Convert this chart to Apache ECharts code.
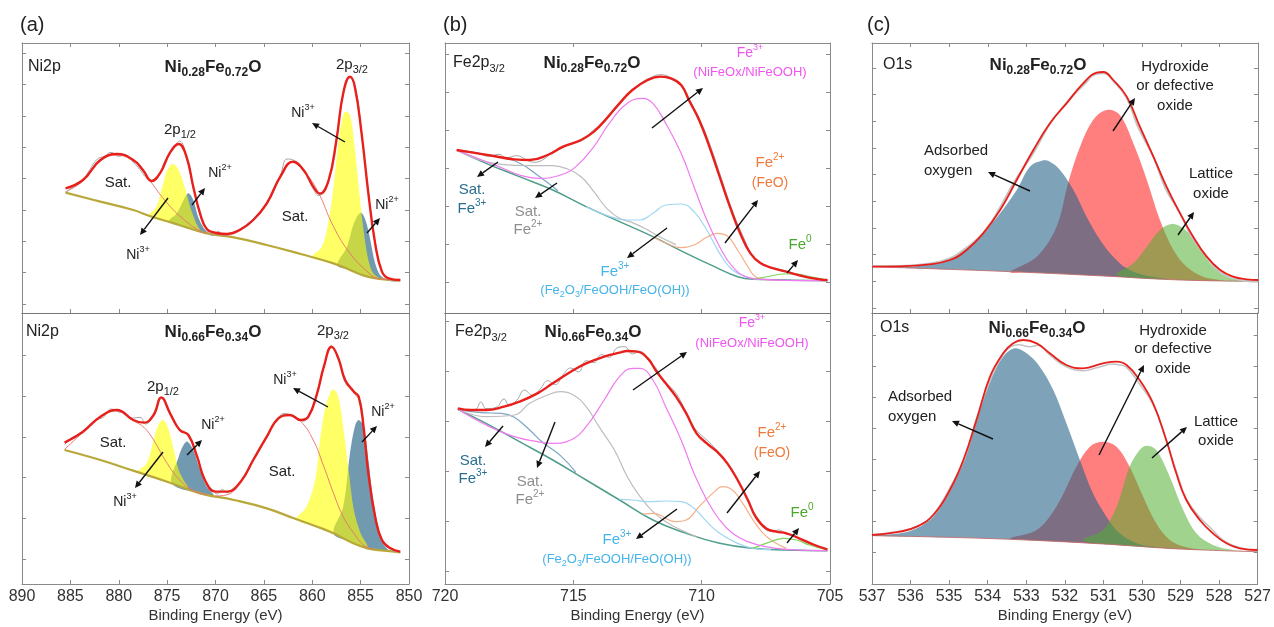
<!DOCTYPE html>
<html><head><meta charset="utf-8">
<script src="https://cdn.jsdelivr.net/npm/echarts@6/dist/echarts.min.js"></script>
<style>html,body{margin:0;padding:0;background:#fff}#c{width:1274px;height:627px}</style>
</head><body><div id="c"></div>
<script>
// ---------- axis ranges & tick labels ----------
const xRangeA = [850, 890, 5];
const xRangeB = [705, 720, 5];
const xRangeC = [527, 537, 1];
const yTicksA1 = [27,121,215,309,403,497,591,685,779];
const yTicksA2 = [75,197,319,441,563,685];
const yTicksB1 = [93,207,321,435,549,663,777];
const yTicksB2 = [39,189,339,489,639,789];
const yTicksC1 = [15,95,175,255,335,415,495,575,655,735];
const yTicksC2 = [96,189,282,375,468,561,654,747];
const xName = 'Binding Energy (eV)';

// ---------- (a) Ni2p, Ni0.28Fe0.72O ----------
const a1Bg = [[885.5,361],[881.9,334],[878.5,309],[876.8,291],[874.3,269],[870.9,239],[868.1,227],[864.7,204],[861.2,177],[857.8,149],[856.1,129],[854.3,109],[852.6,101],[850.9,97]];
const a1Env = [[885.5,374],[883.7,399],[881.9,459],[880.2,477],[878.5,459],[877.5,429],[876.6,396],[875.7,421],[874.7,481],[873.8,507],[873.0,469],[872.3,379],[871.6,299],[870.9,252],[869.9,240],[868.8,237],[867.5,249],[866.1,279],[864.7,329],[863.3,409],[862.0,454],[860.9,429],[859.9,379],[859.2,358],[858.3,399],[857.5,519],[856.8,659],[856.1,709],[855.6,679],[854.9,539],[854.2,359],[853.5,209],[852.8,124],[852.1,104],[850.9,99]];
const a1Raw = [[885.5,362],[884.6,380],[883.8,395],[883.0,430],[882.2,462],[881.5,470],[880.8,482],[880.0,470],[879.3,474],[878.5,452],[877.8,430],[877.1,404],[876.5,398],[875.9,410],[875.3,452],[874.7,480],[874.0,510],[873.7,516],[873.0,465],[872.3,375],[871.6,300],[870.9,250],[870.3,232],[869.7,245],[869.2,232],[868.5,240],[867.5,252],[866.1,282],[864.7,326],[863.3,412],[862.6,462],[861.9,458],[861.2,442],[860.5,410],[859.9,372],[859.3,352],[858.8,368],[858.3,396],[857.5,522],[856.8,655],[856.1,705],[855.5,670],[854.9,540],[854.2,362],[853.5,212],[852.8,126],[852.1,100],[851.5,96],[850.9,99]];
const a1Sat1 = [[885.5,363],[883.7,396],[881.9,456],[880.2,474],[878.5,456],[877.5,425],[876.6,390],[875.0,330],[873.3,281],[871.6,246],[870.9,239]];
const a1Sat2 = [[870.2,237],[868.8,234],[867.5,247],[866.1,277],[864.7,327],[863.3,406],[862.0,451],[860.9,426],[859.5,369],[857.8,259],[856.1,179],[854.3,124],[853.3,104],[852.1,100]];
const a1Ni3a = [[876.9,291],[876.1,319],[875.4,389],[874.9,434],[874.4,447],[873.8,429],[873.1,369],[872.4,299],[871.6,249],[871.1,241]];
const a1Ni2a = [[874.9,274],[874.0,299],[873.3,339],[872.8,359],[872.3,339],[871.8,289],[871.2,254],[870.7,238]];
const a1Ni3b = [[860.0,168],[859.0,199],[858.3,279],[857.8,379],[857.3,509],[856.8,594],[856.5,604],[856.1,594],[855.7,519],[855.2,379],[854.7,249],[854.2,159],[853.7,119],[853.1,104]];
const a1Ni2b = [[857.4,144],[856.4,199],[855.7,269],[855.0,301],[854.5,279],[854.0,219],[853.5,149],[853.0,114],[852.4,101]];

// ---------- (a) Ni2p, Ni0.66Fe0.34O ----------
const a2Bg = [[885.6,402],[881.9,372],[878.5,340],[875.0,307],[871.6,272],[868.1,252],[864.7,227],[861.9,197],[859.5,172],[857.8,152],[856.1,127],[854.3,107],[852.6,100],[850.9,95]];
const a2Env = [[885.6,424],[883.7,457],[881.9,502],[880.2,522],[878.5,492],[877.4,484],[876.4,507],[875.6,560],[874.7,512],[873.7,462],[872.8,447],[871.9,382],[871.1,312],[870.0,277],[868.8,277],[867.4,307],[866.1,372],[864.7,442],[863.5,497],[862.3,507],[861.2,492],[860.4,502],[859.5,572],[858.8,652],[858.0,712],[857.3,677],[856.6,612],[855.7,577],[855.2,562],[854.7,472],[854.2,332],[853.5,202],[852.8,132],[851.9,107],[850.9,97]];
const a2Raw = [[885.6,418],[884.8,440],[884.0,448],[883.2,470],[882.4,492],[881.6,500],[880.8,525],[880.0,516],[879.3,512],[878.6,498],[877.8,500],[877.2,480],[876.6,496],[876.1,530],[875.6,556],[875.0,535],[874.4,492],[873.8,466],[873.3,458],[872.7,440],[871.9,384],[871.1,315],[870.4,285],[869.8,270],[869.3,284],[868.8,274],[868.2,287],[867.4,305],[866.1,375],[864.7,440],[863.5,500],[862.8,512],[862.0,502],[861.4,495],[860.9,488],[860.4,506],[859.5,570],[858.8,650],[858.0,708],[857.3,680],[856.8,620],[856.4,596],[855.9,585],[855.5,566],[855.0,545],[854.7,470],[854.2,334],[853.5,200],[852.8,128],[851.9,104],[850.9,95]];
const a2Sat1 = [[885.6,404],[883.7,455],[881.9,500],[880.2,520],[878.5,490],[877.4,470],[876.4,432],[875.0,362],[873.7,312],[872.3,280],[870.9,267]];
const a2Sat2 = [[870.0,264],[868.8,268],[867.4,305],[866.1,370],[864.7,440],[863.5,494],[862.3,505],[861.2,488],[859.9,432],[858.8,352],[857.8,272],[856.8,202],[855.7,152],[854.7,117],[853.7,104]];
const a2Ni3a = [[878.0,335],[877.1,362],[876.4,432],[875.9,477],[875.4,492],[874.9,467],[874.3,402],[873.8,342],[873.3,312],[872.8,286]];
const a2Ni2a = [[874.5,302],[873.8,382],[873.3,417],[872.9,427],[872.3,402],[871.6,342],[870.9,292],[870.2,266]];
const a2Ni3b = [[861.6,194],[860.6,232],[859.7,312],[859.2,432],[858.7,522],[858.1,577],[857.8,584],[857.3,562],[856.8,472],[856.2,332],[855.7,222],[855.0,152],[854.3,110]];
const a2Ni2b = [[857.8,152],[856.8,232],[856.1,392],[855.6,472],[855.2,492],[854.7,472],[854.2,372],[853.7,252],[853.1,162],[852.6,117],[852.1,100]];

// ---------- (b) Fe2p3/2, Ni0.28Fe0.72O ----------
const b1Bg = [[719.5,487],[718.4,449],[717.1,409],[715.8,369],[714.5,319],[713.2,274],[711.9,229],[710.6,179],[709.5,139],[708.6,109],[708.0,101],[706.7,99],[705.1,97]];
const b1Env = [[719.55,489],[718.9,481],[718.1,471],[717.3,461],[716.7,459],[716.0,474],[715.4,499],[714.7,519],[714.2,544],[713.7,584],[713.2,629],[712.7,669],[712.1,699],[711.6,709],[711.2,704],[710.8,684],[710.5,639],[710.1,579],[709.7,499],[709.3,409],[708.9,319],[708.5,239],[708.1,179],[707.7,149],[707.2,134],[706.7,124],[706.0,109],[705.4,101],[705.1,99]];
const b1Raw = [[719.5,489],[719.0,484],[718.6,476],[718.3,470],[717.9,476],[717.6,466],[717.2,472],[716.8,458],[716.5,452],[716.1,464],[715.8,484],[715.5,492],[715.2,506],[714.9,512],[714.6,520],[714.2,550],[713.9,566],[713.4,608],[712.9,652],[712.4,688],[712.0,706],[711.6,715],[711.2,706],[710.8,686],[710.4,630],[710.0,568],[709.6,488],[709.2,396],[708.8,306],[708.4,232],[708.0,170],[707.6,146],[707.2,135],[706.8,128],[706.4,118],[706.0,112],[705.6,104],[705.1,99]];
const b1Mag = [[719.5,487],[717.9,439],[717.1,414],[716.3,404],[715.5,414],[714.9,439],[714.2,499],[713.6,569],[712.9,629],[712.3,644],[711.9,629],[711.4,569],[710.8,479],[710.3,379],[709.8,279],[709.3,199],[708.8,139],[708.2,107],[707.6,101],[706.7,98],[705.1,97]];
const b1SatFe2 = [[719.5,487],[718.7,461],[717.7,445],[716.8,442],[715.8,442],[715.3,434],[714.7,409],[714.2,364],[713.7,314],[713.2,284],[712.7,271],[712.1,249],[711.6,227],[711.0,205]];
const b1SatFe3 = [[719.5,489],[717.9,468],[717.1,450],[716.3,408],[715.6,367]];
const b1Fe3ox = [[714.5,319],[713.7,293],[712.9,279],[712.4,279],[711.9,299],[711.4,324],[710.8,327],[710.3,304],[709.8,249],[709.3,179],[708.8,129],[708.2,107],[707.6,99]];
const b1Fe2 = [[711.9,229],[711.4,210],[710.8,196],[710.3,204],[709.8,227],[709.4,239],[709.0,231],[708.6,189],[708.2,139],[707.9,109],[707.3,99]];
const b1Fe0 = [[708.0,101],[707.3,111],[706.8,117],[706.3,117],[705.8,109],[705.1,99]];

// ---------- (b) Fe2p3/2, Ni0.66Fe0.34O ----------
const b2Bg = [[719.5,524],[718.4,482],[717.1,427],[715.8,372],[714.5,312],[713.2,252],[711.9,192],[710.6,152],[709.3,122],[708.0,107],[706.7,102],[705.1,100]];
const b2Env = [[719.5,527],[719.0,522],[718.4,522],[717.7,532],[717.1,547],[716.4,572],[715.8,602],[715.1,637],[714.5,662],[713.8,682],[713.2,694],[712.9,699],[712.5,697],[712.1,677],[711.8,642],[711.4,602],[711.0,562],[710.6,512],[710.2,452],[709.8,422],[709.4,397],[709.0,362],[708.6,312],[708.2,252],[707.9,202],[707.5,167],[707.1,157],[706.7,152],[706.2,137],[705.6,117],[705.1,104]];
const b2Raw = [[719.5,524],[719.1,520],[718.8,524],[718.6,546],[718.4,526],[718.0,530],[717.7,555],[717.5,536],[717.2,552],[716.9,582],[716.6,566],[716.3,584],[716.0,610],[715.7,598],[715.4,628],[715.1,648],[714.8,636],[714.5,670],[714.2,664],[713.9,688],[713.6,680],[713.3,708],[713.0,712],[712.7,690],[712.4,698],[712.1,672],[711.8,650],[711.5,608],[711.2,590],[710.9,560],[710.6,514],[710.3,470],[710.0,446],[709.7,425],[709.4,400],[709.1,374],[708.8,336],[708.5,300],[708.2,250],[707.9,206],[707.6,170],[707.3,158],[707.0,162],[706.7,150],[706.4,146],[706.0,128],[705.6,116],[705.1,102]];
const b2Mag = [[719.5,524],[718.4,477],[717.3,442],[716.4,427],[715.8,422],[715.1,432],[714.5,472],[713.8,552],[713.2,622],[712.7,647],[712.4,647],[711.9,612],[711.4,532],[710.8,432],[710.3,332],[709.8,252],[709.3,192],[708.8,152],[708.2,127],[707.5,112],[706.7,104],[705.1,100]];
const b2SatFe2 = [[719.5,524],[718.4,502],[717.3,507],[716.7,542],[716.0,567],[715.5,577],[715.0,567],[714.5,532],[714.0,472],[713.4,402],[712.9,322],[712.4,262],[711.9,217],[711.4,187],[710.8,162],[710.2,142]];
const b2SatFe3 = [[719.5,524],[718.6,514],[717.8,512],[717.3,500],[716.7,462],[716.2,425],[715.5,385],[714.9,335]];
const b2Fe3ox = [[713.2,254],[712.7,252],[712.1,247],[711.4,249],[710.8,247],[710.3,227],[709.8,187],[709.3,152],[708.6,122],[708.0,107],[707.3,103]];
const b2Fe2 = [[712.3,210],[711.9,212],[711.0,187],[710.6,192],[710.1,232],[709.5,277],[709.2,292],[708.8,282],[708.4,242],[708.0,192],[707.6,152],[707.2,127],[706.7,107]];
const b2Fe0 = [[708.0,107],[707.3,127],[706.8,137],[706.3,132],[705.8,117],[705.1,102]];

// ---------- (c) O1s, Ni0.28Fe0.72O ----------
const c1Bg = [[537.0,139],[535.0,131],[533.0,122],[531.0,111],[529.0,99],[527.0,95]];
const c1Env = [[537.0,139],[536.27,140],[535.58,145],[534.98,159],[534.55,189],[534.12,239],[533.68,309],[533.25,399],[532.82,489],[532.39,569],[531.96,629],[531.53,689],[531.18,721],[531.01,723],[530.75,699],[530.4,649],[530.06,559],[529.71,469],[529.37,379],[529.02,299],[528.68,229],[528.33,169],[527.98,129],[527.64,109],[527.29,101],[527.0,99]];
const c1Raw = [[537,141],[536.3,141],[535.6,147],[535.0,163],[534.6,192],[534.1,242],[533.7,313],[533.3,396],[532.8,484],[532.4,566],[532.0,626],[531.5,686],[531.2,717],[531.0,719],[530.75,696],[530.4,645],[530.1,556],[529.7,466],[529.4,375],[529.0,296],[528.7,224],[528.3,165],[528.0,124],[527.6,104],[527.3,96],[527.0,94]];
const c1Ads = [[536.4,136],[535.84,140],[534.98,164],[534.55,194],[534.12,239],[533.68,299],[533.25,369],[532.91,439],[532.6,457],[532.39,454],[532.13,429],[531.78,369],[531.44,289],[531.09,219],[530.75,169],[530.4,134],[529.97,114],[529.37,102]];
const c1Hyd = [[533.42,123],[532.73,169],[532.22,259],[531.91,394],[531.61,499],[531.27,579],[530.92,609],[530.58,594],[530.23,509],[529.88,399],[529.54,279],[529.19,189],[528.85,139],[528.42,109],[527.9,97]];
const c1Lat = [[530.66,114],[530.23,149],[529.88,199],[529.54,249],[529.24,267],[528.93,254],[528.59,209],[528.24,149],[527.9,114],[527.47,99],[527.03,95]];

// ---------- (c) O1s, Ni0.66Fe0.34O ----------
const c2Bg = [[537.0,145],[535.0,140],[533.0,132],[531.0,120],[529.0,105],[527.0,97]];
const c2Env = [[537.0,147],[536.27,157],[535.84,172],[535.41,207],[534.98,282],[534.63,372],[534.29,492],[533.94,622],[533.6,692],[533.34,722],[533.08,732],[532.73,722],[532.39,692],[531.96,657],[531.53,647],[531.01,662],[530.66,667],[530.4,657],[530.06,612],[529.71,542],[529.37,432],[529.11,332],[528.85,252],[528.5,192],[528.16,152],[527.81,122],[527.47,107],[527.0,102]];
const c2Raw = [[537,148],[536.3,158],[535.8,174],[535.4,210],[535.0,285],[534.6,375],[534.3,494],[533.9,620],[533.6,688],[533.4,712],[533.2,718],[532.9,712],[532.7,716],[532.4,688],[532.0,654],[531.5,640],[531.2,648],[531.0,654],[530.8,660],[530.6,658],[530.4,650],[530.1,606],[529.7,536],[529.4,440],[529.1,336],[528.85,256],[528.5,200],[528.2,166],[527.9,132],[527.5,110],[527.0,100]];
const c2Ads = [[537.0,145],[536.27,152],[535.84,167],[535.41,202],[534.98,277],[534.63,367],[534.29,487],[533.94,612],[533.6,682],[533.3,707],[532.99,692],[532.65,652],[532.3,582],[531.96,482],[531.61,372],[531.27,272],[530.92,202],[530.58,152],[530.14,122],[529.63,111],[528.93,104]];
const c2Hyd = [[533.42,137],[532.73,162],[532.22,232],[531.7,352],[531.35,412],[531.01,427],[530.66,412],[530.32,352],[529.97,262],[529.63,182],[529.28,132],[528.85,110],[528.42,102]];
const c2Lat = [[531.53,132],[531.01,162],[530.66,232],[530.32,352],[530.06,402],[529.88,415],[529.63,402],[529.28,322],[528.93,222],[528.59,152],[528.16,117],[527.64,102],[527.21,98]];

// ---------- building ----------
const FF = '"Liberation Sans", Arial, Helvetica, sans-serif';
const AX = '#8a8a8a';
const gridsPx = [
  {left:22, top:43, width:387, height:270},
  {left:22, top:313, width:387, height:271},
  {left:445, top:43, width:385, height:270},
  {left:445, top:313, width:385, height:271},
  {left:872, top:43, width:386, height:270},
  {left:872, top:313, width:386, height:271}
];
const xr = [xRangeA, xRangeA, xRangeB, xRangeB, xRangeC, xRangeC];
const ymax = [810, 813, 810, 813, 810, 813];
const yt = [yTicksA1, yTicksA2, yTicksB1, yTicksB2, yTicksC1, yTicksC2];

const xAxes = [], yAxes = [];
for (let i = 0; i < 6; i++) {
  const bottomLab = (i % 2 === 1);
  xAxes.push({type:'value', gridIndex:i, min:xr[i][0], max:xr[i][1], interval:xr[i][2], inverse:true, position:'bottom',
    axisLine:{show:true, onZero:false, lineStyle:{color:bottomLab ? AX : '#777', width:1}},
    axisTick:{show:true, inside:true, length:4, lineStyle:{color:AX}},
    axisLabel:{show:bottomLab, color:'#333', fontSize:16, fontFamily:FF, margin:5},
    splitLine:{show:false},
    name: bottomLab ? xName : '', nameLocation:'middle', nameGap:24,
    nameTextStyle:{color:'#333', fontSize:15, fontFamily:FF}});
}
for (let i = 0; i < 6; i++) {
  xAxes.push({type:'value', gridIndex:i, min:xr[i][0], max:xr[i][1], interval:xr[i][2], inverse:true, position:'top',
    axisLine:{show:true, onZero:false, lineStyle:{color:(i % 2 === 0) ? AX : '#777', width:1}},
    axisTick:{show:(i % 2 === 0), inside:true, length:4, lineStyle:{color:AX}},
    axisLabel:{show:false}, splitLine:{show:false}});
}
for (let i = 0; i < 6; i++) {
  yAxes.push({type:'value', gridIndex:i, min:0, max:ymax[i], position:'left',
    axisLine:{show:true, onZero:false, lineStyle:{color:AX, width:1}},
    axisTick:{show:true, inside:true, length:4, customValues:yt[i], lineStyle:{color:AX}},
    axisLabel:{show:false}, splitLine:{show:false}});
}
for (let i = 0; i < 6; i++) {
  yAxes.push({type:'value', gridIndex:i, min:0, max:ymax[i], position:'right',
    axisLine:{show:true, onZero:false, lineStyle:{color:AX, width:1}},
    axisTick:{show:true, inside:true, length:4, customValues:yt[i], lineStyle:{color:AX}},
    axisLabel:{show:false}, splitLine:{show:false}});
}

function line(gi, data, color, width, z) {
  return {type:'line', xAxisIndex:gi, yAxisIndex:gi, data:data, showSymbol:false, symbol:'none',
    smooth:0.45, lineStyle:{color:color, width:width}, z:z, silent:true, animation:false};
}
function fill(gi, data, bg, color, z) {
  return {type:'custom', xAxisIndex:gi, yAxisIndex:gi, data:data, z:z, silent:true, animation:false,
    encode:{x:0, y:1},
    renderItem: function (params, api) {
      if (params.dataIndex !== 0) return null;
      const a = data[0][0], b = data[data.length - 1][0];
      const lo = Math.min(a, b), hi = Math.max(a, b);
      const top = data.map(function (p) { return api.coord(p); });
      const bottom = bg.filter(function (p) { return p[0] > lo + 0.15 && p[0] < hi - 0.15; })
        .map(function (p) { return api.coord(p); }).reverse();
      return {type:'polygon', shape:{points:top.concat(bottom), smooth:0.35}, style:{fill:color}};
    }};
}

const YEL = 'rgba(255,255,0,0.6)', NIB = 'rgba(40,100,135,0.66)';
const RED = '#e8201c', RAW = '#a6a6a6', SATL = 'rgba(235,110,110,0.9)', BGA = '#b8a83a';
const CR = 'rgba(255,20,20,0.55)', CB = 'rgba(40,100,135,0.6)', CG = 'rgba(80,175,50,0.55)';
const MAG = '#f07af0', GRY = '#bdbdbd', SBL = '#7aa6c2', LBL = '#9fd6f2', ORG = '#f5b08a', GRN = '#7fd35a', BGB = '#4f9d8a';

const series = [
  // a top
  fill(0, a1Ni2a, a1Bg, NIB, 1), fill(0, a1Ni2b, a1Bg, NIB, 1),
  fill(0, a1Ni3a, a1Bg, YEL, 2), fill(0, a1Ni3b, a1Bg, YEL, 2),
  line(0, a1Bg, BGA, 2.2, 3), line(0, a1Sat1, SATL, 1, 4), line(0, a1Sat2, SATL, 1, 4),
  line(0, a1Raw, RAW, 1, 5), line(0, a1Env, RED, 2.4, 6),
  // a bottom
  fill(1, a2Ni2a, a2Bg, NIB, 1), fill(1, a2Ni2b, a2Bg, NIB, 1),
  fill(1, a2Ni3a, a2Bg, YEL, 2), fill(1, a2Ni3b, a2Bg, YEL, 2),
  line(1, a2Bg, BGA, 2.2, 3), line(1, a2Sat1, SATL, 1, 4), line(1, a2Sat2, SATL, 1, 4),
  line(1, a2Raw, RAW, 1, 5), line(1, a2Env, RED, 2.4, 6),
  // b top
  line(2, b1Bg, BGB, 1.5, 3), line(2, b1SatFe3, SBL, 1.2, 4), line(2, b1SatFe2, GRY, 1.2, 4),
  line(2, b1Fe3ox, LBL, 1.2, 4), line(2, b1Fe2, ORG, 1.2, 4), line(2, b1Fe0, GRN, 1.2, 4),
  line(2, b1Mag, MAG, 1.2, 4), line(2, b1Raw, RAW, 1, 5), line(2, b1Env, RED, 2.4, 6),
  // b bottom
  line(3, b2Bg, BGB, 1.5, 3), line(3, b2SatFe3, SBL, 1.2, 4), line(3, b2SatFe2, GRY, 1.2, 4),
  line(3, b2Fe3ox, LBL, 1.2, 4), line(3, b2Fe2, ORG, 1.2, 4), line(3, b2Fe0, GRN, 1.2, 4),
  line(3, b2Mag, MAG, 1.2, 4), line(3, b2Raw, RAW, 1, 5), line(3, b2Env, RED, 2.4, 6),
  // c top
  fill(4, c1Hyd, c1Bg, CR, 1), fill(4, c1Ads, c1Bg, CB, 2), fill(4, c1Lat, c1Bg, CG, 3),
  line(4, c1Bg, 'rgba(190,110,110,0.9)', 1, 4), line(4, c1Raw, '#c4c4c4', 2, 5), line(4, c1Env, RED, 1.8, 6),
  // c bottom
  fill(5, c2Hyd, c2Bg, CR, 1), fill(5, c2Ads, c2Bg, CB, 2), fill(5, c2Lat, c2Bg, CG, 3),
  line(5, c2Bg, 'rgba(190,110,110,0.9)', 1, 4), line(5, c2Raw, '#c4c4c4', 1.5, 5), line(5, c2Env, RED, 1.8, 6)
];

// ---------- annotations ----------
function T(x, y, text, o) {
  o = o || {};
  const fs = o.fs || 15, col = o.c || '#222', fw = o.b ? 'bold' : 'normal';
  const al = o.a || 'center';
  return {type:'text', x:x, y:y, silent:true, z:100, style:{
    text:text, fill:col, fontSize:fs, fontFamily:FF, fontWeight:fw,
    align:al, textAlign:al, verticalAlign:'middle', textVerticalAlign:'middle',
    lineHeight: o.lh || Math.round(fs * 1.4),
    rich:{
      s:{fontSize:Math.round(fs * 0.7), fontFamily:FF, fontWeight:fw, fill:col, verticalAlign:'bottom', lineHeight:Math.round(fs * 0.7) + 1},
      p:{fontSize:Math.round(fs * 0.66), fontFamily:FF, fontWeight:fw, fill:col, verticalAlign:'top', lineHeight:Math.round(fs * 0.66) + 5}
    }}};
}
function A(x1, y1, x2, y2) {
  const dx = x2 - x1, dy = y2 - y1, L = Math.hypot(dx, dy), ux = dx / L, uy = dy / L, h = 7, w = 3.3;
  const bx = x2 - ux * h, by = y2 - uy * h;
  return [
    {type:'line', silent:true, z:100, shape:{x1:x1, y1:y1, x2:bx, y2:by}, style:{stroke:'#111', lineWidth:1.4}},
    {type:'polygon', silent:true, z:100, shape:{points:[[x2, y2], [bx - uy * w, by + ux * w], [bx + uy * w, by - ux * w]]}, style:{fill:'#111'}}
  ];
}
const MAGT = '#ee55ee', ORGT = '#f07a3a', GRNT = '#4aa82a', LBLT = '#45b4e8', SBLT = '#2b6f90', GRYT = '#8e8e8e';
const els = [].concat(
  [T(20, 25, '(a)', {fs:20, a:'left'}), T(443, 25, '(b)', {fs:20, a:'left'}), T(867, 25, '(c)', {fs:20, a:'left'})],
  // a top
  [T(28, 67, 'Ni2p', {fs:16, a:'left'}), T(213, 67, 'Ni{s|0.28}Fe{s|0.72}O', {fs:17, b:true, lh:24}),
   T(352, 65, '2p{s|3/2}', {fs:15}), T(180, 130, '2p{s|1/2}', {fs:15}),
   T(303, 113, 'Ni{p|3+}', {fs:14}), T(387, 205, 'Ni{p|2+}', {fs:14}), T(220, 173, 'Ni{p|2+}', {fs:14}), T(138, 255, 'Ni{p|3+}', {fs:14}),
   T(118, 183, 'Sat.', {fs:15}), T(295, 217, 'Sat.', {fs:15})],
  A(345, 142, 312, 123), A(367, 233, 380, 218), A(192, 205, 205, 188), A(168, 198, 140, 235),
  // a bottom
  [T(26, 332, 'Ni2p', {fs:16, a:'left'}), T(213, 332, 'Ni{s|0.66}Fe{s|0.34}O', {fs:17, b:true, lh:24}),
   T(333, 331, '2p{s|3/2}', {fs:15}), T(163, 387, '2p{s|1/2}', {fs:15}),
   T(285, 380, 'Ni{p|3+}', {fs:14}), T(383, 412, 'Ni{p|2+}', {fs:14}), T(213, 425, 'Ni{p|2+}', {fs:14}), T(125, 502, 'Ni{p|3+}', {fs:14}),
   T(113, 443, 'Sat.', {fs:15}), T(282, 472, 'Sat.', {fs:15})],
  A(328, 407, 293, 388), A(362, 442, 377, 426), A(187, 455, 202, 440), A(163, 452, 135, 488),
  // b top
  [T(453, 63, 'Fe2p{s|3/2}', {fs:16, a:'left'}), T(592, 63, 'Ni{s|0.28}Fe{s|0.72}O', {fs:17, b:true, lh:24}),
   T(750, 53, 'Fe{p|3+}', {fs:14, c:MAGT}), T(750, 72, '(NiFeOx/NiFeOOH)', {fs:13, c:MAGT}),
   T(770, 163, 'Fe{p|2+}', {fs:15, c:ORGT}), T(770, 183, '(FeO)', {fs:14, c:ORGT}),
   T(800, 245, 'Fe{p|0}', {fs:15, c:GRNT}),
   T(615, 272, 'Fe{p|3+}', {fs:15, c:LBLT}), T(615, 290, '(Fe{s|2}O{s|3}/FeOOH/FeO(OH))', {fs:13, c:LBLT}),
   T(472, 190, 'Sat.', {fs:15, c:SBLT}), T(472, 209, 'Fe{p|3+}', {fs:15, c:SBLT}),
   T(528, 212, 'Sat.', {fs:15, c:GRYT}), T(528, 230, 'Fe{p|2+}', {fs:15, c:GRYT})],
  A(652, 128, 703, 88), A(725, 243, 758, 200), A(787, 273, 798, 260), A(667, 228, 627, 258), A(498, 162, 477, 177), A(557, 183, 535, 198),
  // b bottom
  [T(455, 332, 'Fe2p{s|3/2}', {fs:16, a:'left'}), T(593, 332, 'Ni{s|0.66}Fe{s|0.34}O', {fs:17, b:true, lh:24}),
   T(752, 323, 'Fe{p|3+}', {fs:14, c:MAGT}), T(752, 343, '(NiFeOx/NiFeOOH)', {fs:13, c:MAGT}),
   T(772, 433, 'Fe{p|2+}', {fs:15, c:ORGT}), T(772, 453, '(FeO)', {fs:14, c:ORGT}),
   T(802, 513, 'Fe{p|0}', {fs:15, c:GRNT}),
   T(617, 540, 'Fe{p|3+}', {fs:15, c:LBLT}), T(617, 559, '(Fe{s|2}O{s|3}/FeOOH/FeO(OH))', {fs:13, c:LBLT}),
   T(473, 461, 'Sat.', {fs:15, c:SBLT}), T(473, 479, 'Fe{p|3+}', {fs:15, c:SBLT}),
   T(530, 482, 'Sat.', {fs:15, c:GRYT}), T(530, 500, 'Fe{p|2+}', {fs:15, c:GRYT})],
  A(633, 390, 687, 352), A(727, 513, 760, 471), A(787, 543, 799, 528), A(677, 509, 636, 539), A(503, 426, 485, 447), A(555, 422, 537, 468),
  // c top
  [T(883, 65, 'O1s', {fs:16, a:'left'}), T(1038, 65, 'Ni{s|0.28}Fe{s|0.72}O', {fs:17, b:true, lh:24}),
   T(1175, 67, 'Hydroxide', {fs:15}), T(1175, 86, 'or defective', {fs:15}), T(1175, 106, 'oxide', {fs:15}),
   T(924, 151, 'Adsorbed', {fs:15, a:'left'}), T(924, 171, 'oxygen', {fs:15, a:'left'}),
   T(1211, 174, 'Lattice', {fs:15}), T(1211, 194, 'oxide', {fs:15})],
  A(1113, 131, 1135, 98), A(1030, 191, 988, 172), A(1178, 235, 1194, 212),
  // c bottom
  [T(880, 328, 'O1s', {fs:16, a:'left'}), T(1037, 328, 'Ni{s|0.66}Fe{s|0.34}O', {fs:17, b:true, lh:24}),
   T(1173, 331, 'Hydroxide', {fs:15}), T(1173, 349, 'or defective', {fs:15}), T(1173, 369, 'oxide', {fs:15}),
   T(888, 397, 'Adsorbed', {fs:15, a:'left'}), T(888, 417, 'oxygen', {fs:15, a:'left'}),
   T(1216, 422, 'Lattice', {fs:15}), T(1216, 441, 'oxide', {fs:15})],
  A(1099, 455, 1144, 365), A(993, 439, 952, 421), A(1152, 458, 1187, 427)
);

const chart = echarts.init(document.getElementById('c'), null, {renderer:'canvas'});
chart.setOption({
  backgroundColor:'#fff', animation:false,
  grid:gridsPx.map(function (g) { return Object.assign({containLabel:false}, g); }),
  xAxis:xAxes, yAxis:yAxes, series:series,
  graphic:{elements:els}
});
</script></body></html>
